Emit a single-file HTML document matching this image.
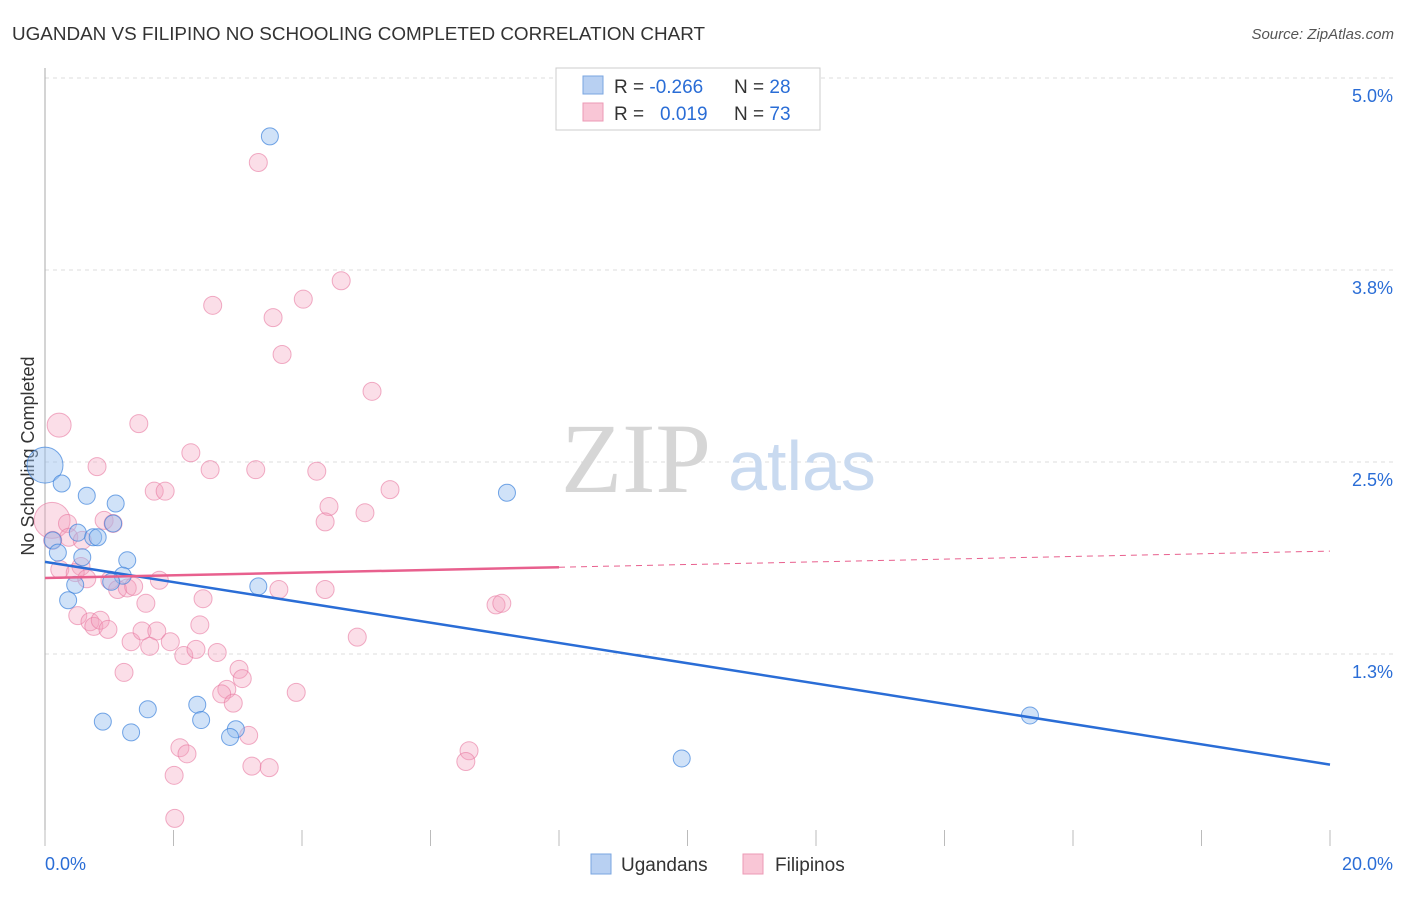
<!DOCTYPE html>
<html><head><meta charset="utf-8"><style>
body{margin:0;background:#fff;font-family:"Liberation Sans",sans-serif;}
</style></head><body>
<svg id="chart" width="1406" height="892" viewBox="0 0 1406 892" xmlns="http://www.w3.org/2000/svg" font-family="Liberation Sans, sans-serif">
<text x="12" y="40" font-size="18" fill="#333" textLength="693" lengthAdjust="spacingAndGlyphs">UGANDAN VS FILIPINO NO SCHOOLING COMPLETED CORRELATION CHART</text>
<text x="1394" y="39" font-size="15" fill="#555" text-anchor="end" font-style="italic">Source: ZipAtlas.com</text>
<text x="0" y="0" transform="translate(34,456) rotate(-90)" font-size="18" fill="#333" text-anchor="middle">No Schooling Completed</text>
<g id="grid"></g>
<text x="636" y="492" font-size="100" fill="#d6d6d6" style="font-family:'Liberation Serif',serif" text-anchor="middle">ZIP</text>
<text x="802" y="490" font-size="70" fill="#c9daf0" text-anchor="middle">atlas</text>
<g id="pts"></g>
<g id="lines"></g>
<g>
<rect x="556" y="68" width="264" height="62" fill="#fff" stroke="#ccc"/>
<rect x="583" y="76" width="20" height="18" fill="#b8d0f2" stroke="#7aa6e0"/>
<rect x="583" y="103" width="20" height="18" fill="#f9c6d6" stroke="#ec9ab5"/>
<text x="614" y="93" font-size="19" fill="#333">R = <tspan fill="#2a6dd6">-0.266</tspan></text>
<text x="734" y="93" font-size="19" fill="#333">N = <tspan fill="#2a6dd6">28</tspan></text>
<text x="614" y="120" font-size="19" fill="#333">R = <tspan fill="#2a6dd6" x="660">0.019</tspan></text>
<text x="734" y="120" font-size="19" fill="#333">N = <tspan fill="#2a6dd6">73</tspan></text>
</g>
<g>
<rect x="591" y="854" width="20" height="20" fill="#b8d0f2" stroke="#7aa6e0"/>
<text x="621" y="871" font-size="19" fill="#333">Ugandans</text>
<rect x="743" y="854" width="20" height="20" fill="#f9c6d6" stroke="#ec9ab5"/>
<text x="775" y="871" font-size="19" fill="#333">Filipinos</text>
</g>
</svg>
<script>
const xTicks=[0,20];
const yTicks=[1.25,2.5,3.75,5.0];
const yTickLabels=["1.3%","2.5%","3.8%","5.0%"];
const ugX=[0,0.26,0.65,1.10,1.06,0.51,0.75,0.82,0.12,0.2,0.58,1.28,1.21,0.47,1.03,0.36,3.32,7.19,3.50,0.90,1.34,1.60,2.37,2.43,2.97,2.88,9.91,15.33];
const ugY=[2.48,2.36,2.28,2.23,2.10,2.04,2.01,2.01,1.99,1.91,1.88,1.86,1.76,1.70,1.72,1.60,1.69,2.30,4.62,0.81,0.74,0.89,0.92,0.82,0.76,0.71,0.57,0.85];
const fiX=[0.22,1.46,2.27,0.81,2.57,3.28,4.23,1.70,1.87,5.37,4.42,4.36,4.98,0.11,0.35,0.92,1.06,0.37,0.12,0.58,0.23,0.56,0.47,0.65,1.01,1.13,1.28,1.38,1.78,1.57,2.46,3.64,4.36,7.02,7.11,0.51,0.70,0.76,0.86,0.98,1.34,1.51,1.74,1.63,1.95,2.16,2.41,2.35,2.68,3.02,3.07,2.83,2.75,2.93,3.91,4.86,1.23,2.10,2.21,2.01,2.02,3.17,3.22,3.49,6.60,6.55,3.32,4.61,4.02,2.61,3.55,3.69,5.09];
const fiY=[2.74,2.75,2.56,2.47,2.45,2.45,2.44,2.31,2.31,2.32,2.21,2.11,2.17,2.12,2.10,2.12,2.10,2.01,1.99,1.99,1.80,1.82,1.78,1.74,1.73,1.67,1.68,1.69,1.73,1.58,1.61,1.67,1.67,1.57,1.58,1.50,1.46,1.43,1.47,1.41,1.33,1.40,1.40,1.30,1.33,1.24,1.44,1.28,1.26,1.15,1.09,1.02,0.99,0.93,1.00,1.36,1.13,0.64,0.60,0.46,0.18,0.72,0.52,0.51,0.62,0.55,4.45,3.68,3.56,3.52,3.44,3.20,2.96];
const ugLine=[1.85,0.53];
const fiLine=[1.745,1.92];
const fiSolidEnd=8.0;
const NS="http://www.w3.org/2000/svg";
const X=v=>45+v/20*1285;
const Y=v=>846-v*153.6;
function mk(tag,attrs,parent){const e=document.createElementNS(NS,tag);for(const k in attrs)e.setAttribute(k,attrs[k]);parent.appendChild(e);return e;}
const grid=document.getElementById('grid');
yTicks.forEach((t,i)=>{
 const l=mk('line',{x1:45,x2:1394,y1:Y(t),y2:Y(t),stroke:'#ddd','stroke-dasharray':'4,4'},grid);
 
 
 const tx=mk('text',{x:1393,y:Y(t)+24,'font-size':18,fill:'#2a6dd6','text-anchor':'end'},grid);
 tx.textContent=yTickLabels[i];
 
 
});
const ax=mk('line',{x1:45,x2:45,y1:68,y2:846,stroke:'#aaa'},grid);


for(let i=0;i<=10;i++){
 const t=mk('line',{x1:X(i*2),x2:X(i*2),y1:830,y2:846,stroke:'#bbb'},grid);
 
 
}
xTicks.forEach((t,i)=>{
 const tx=mk('text',{x:i?1393:45,y:870,'font-size':18,fill:'#2a6dd6','text-anchor':i?'end':'start'},grid);
 tx.textContent=t.toFixed(1)+'%';
 
 
});
const pts=document.getElementById('pts');
fiX.forEach((x,i)=>{
 const c=mk('circle',{cx:X(x),cy:Y(fiY[i]),r:i===13?18:(i===0?12:9),fill:'rgba(244,160,188,0.35)',stroke:'rgba(232,120,160,0.6)','stroke-width':1},pts);
 
 
});
ugX.forEach((x,i)=>{
 const c=mk('circle',{cx:X(x),cy:Y(ugY[i]),r:i===0?18:8.5,fill:'rgba(150,190,240,0.45)',stroke:'rgba(60,130,220,0.7)','stroke-width':1},pts);
 
 
});
const lines=document.getElementById('lines');
const bl=mk('line',{x1:X(0),y1:Y(ugLine[0]),x2:X(20),y2:Y(ugLine[1]),stroke:'#2a6dd6','stroke-width':2.5},lines);


const fm=fiLine[0]+(fiLine[1]-fiLine[0])*fiSolidEnd/20;
const pl=mk('line',{x1:X(0),y1:Y(fiLine[0]),x2:X(fiSolidEnd),y2:Y(fm),stroke:'#e8608e','stroke-width':2.5},lines);


const pd=mk('line',{x1:X(fiSolidEnd),y1:Y(fm),x2:X(20),y2:Y(fiLine[1]),stroke:'#e8608e','stroke-width':1,'stroke-dasharray':'6,5'},lines);


</script>
</body></html>
